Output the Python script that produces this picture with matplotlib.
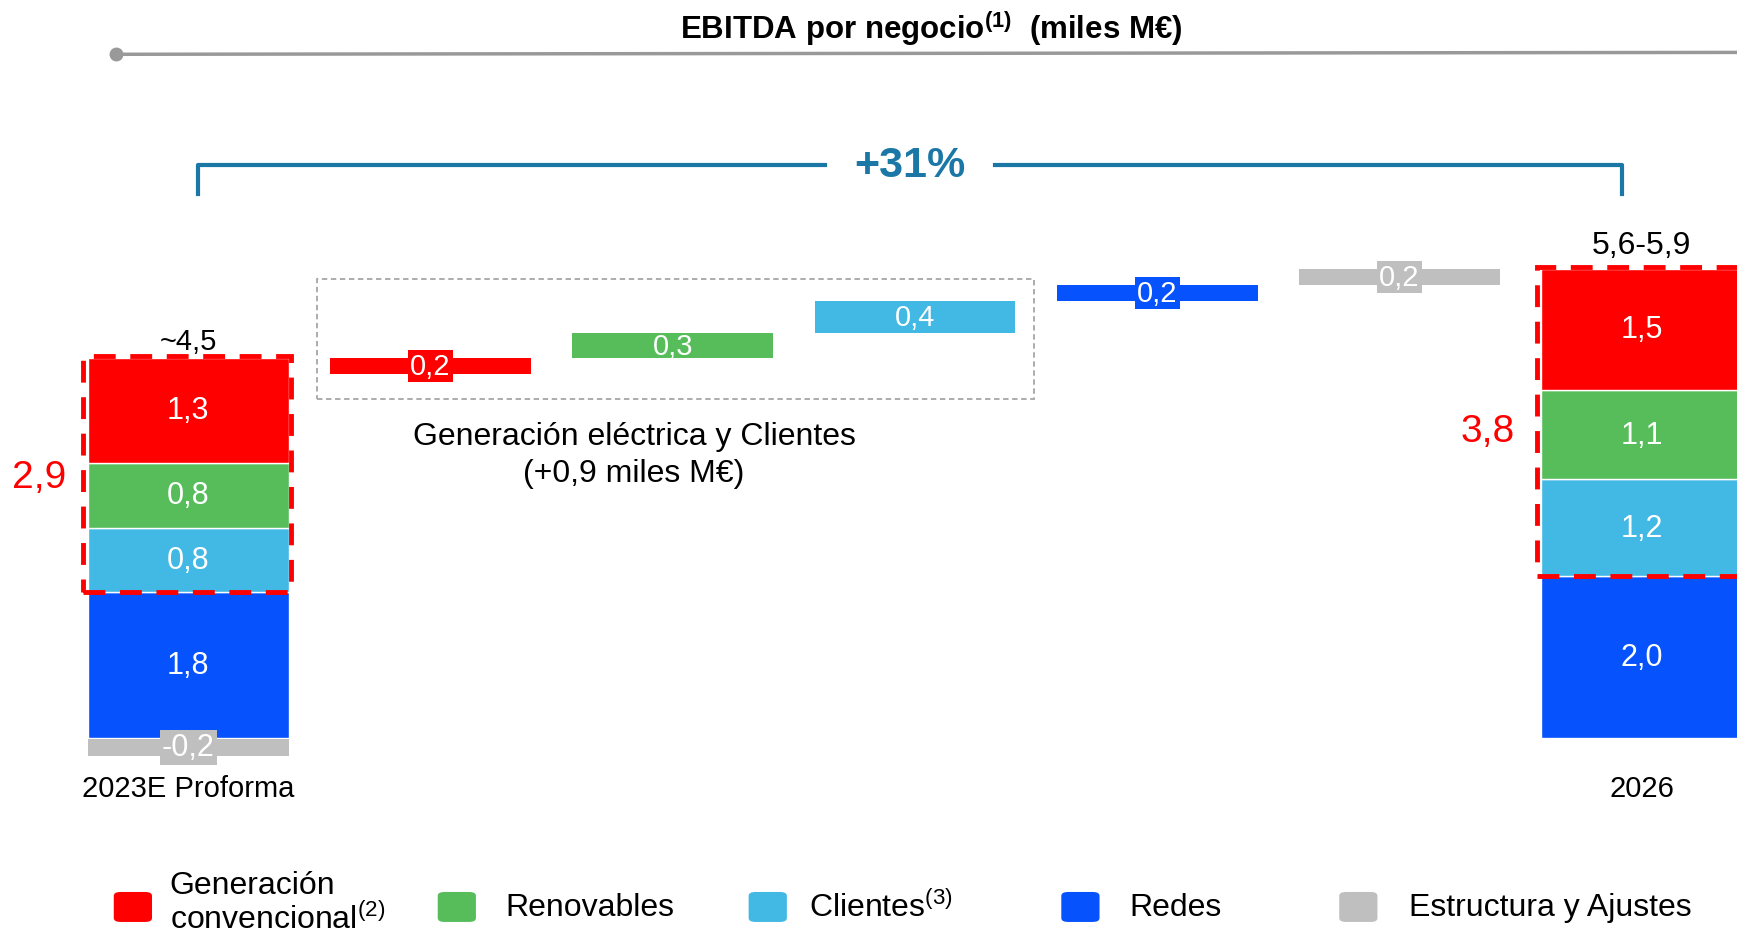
import numpy as np
import matplotlib.pyplot as plt
from matplotlib.patches import Rectangle, FancyBboxPatch

plt.rcParams['font.family'] = ['Liberation Sans', 'DejaVu Sans']
plt.rcParams['mathtext.fontset'] = 'custom'
plt.rcParams['mathtext.rm'] = 'Liberation Sans'
plt.rcParams['mathtext.bf'] = 'Liberation Sans:bold'

# data (miles M EUR)
segments = ['Generación\nconvencional$^{\\mathrm{(2)}}$', 'Renovables', 'Clientes$^{\\mathrm{(3)}}$',
            'Redes', 'Estructura y Ajustes']
colors = ['#FF0000', '#57BD5B', '#42B8E4', '#0652FD', '#BFBFBF']
base_2023 = [1.3, 0.8, 0.8, 1.8, -0.2]
deltas = [0.2, 0.3, 0.4, 0.2, 0.2]
final_2026 = [1.5, 1.1, 1.2, 2.0]
cat_labels = ['2023E Proforma', '2026']
total_labels = ['~4,5', '5,6-5,9']
sub_labels = ['2,9', '3,8']
growth = '+31%'
group_title = 'Generación eléctrica y Clientes\n(+0,9 miles M€)'


def fmt(v):
    return f'{v:.1f}'.replace('.', ',')


fig = plt.figure(figsize=(17.37, 9.37), dpi=100)
ax = fig.add_axes([0, 0, 1, 1])
ax.set_xlim(-0.777, 6.393)
ax.set_ylim(-2.452, 9.137)
ax.axis('off')

w = 0.828
fs = 21

# stacked bars: bottom Redes, then Clientes, Renovables, Generacion
for xpos, vals in [(0, base_2023[:4]), (6, final_2026)]:
    bottom = 0
    for k in [3, 2, 1, 0]:
        ax.bar(xpos, vals[k], w, bottom=bottom, color=colors[k], edgecolor='white', linewidth=1)
        ax.text(xpos, bottom + vals[k] / 2, fmt(vals[k]), ha='center', va='center',
                color='white', fontsize=fs + 1)
        bottom += vals[k]

# negative structure bar on 2023
ax.bar(0, base_2023[4], w, bottom=-0.02, color=colors[4])
ax.text(0, base_2023[4] / 2 - 0.02, fmt(base_2023[4]), ha='center', va='center', color='white',
        fontsize=fs + 1, bbox=dict(facecolor=colors[4], edgecolor='none', pad=1.5))

# waterfall steps
level = sum(base_2023)
for i, d in enumerate(deltas):
    ax.bar(i + 1, d, w, bottom=level, color=colors[i])
    bb = dict(facecolor=colors[i], edgecolor='none', pad=1.5) if d < 0.3 else None
    ax.text(i + 1, level + d / 2, fmt(d), ha='center', va='center', color='white',
            fontsize=fs, bbox=bb)
    level += d

# dashed red frames
ax.add_patch(Rectangle((-0.434, base_2023[3]), 0.859, sum(base_2023[:3]) + 0.02, fill=False,
                       edgecolor='#FF0000', lw=3.5, ls=(0, (4.5, 3)), zorder=5))
ax.add_patch(Rectangle((6 - 0.432, final_2026[3]), 1.0, sum(final_2026[:3]) + 0.02, fill=False,
                       edgecolor='#FF0000', lw=3.5, ls=(0, (4.5, 3)), zorder=5))

# gray dashed group box
ax.add_patch(Rectangle((0.53, 4.19), 2.96, 1.49, fill=False, edgecolor='#A6A6A6', lw=1.3,
                       ls=(0, (3, 2))))
ax.text(1.84, 3.5, group_title, ha='center', va='center', fontsize=23, linespacing=1.3)

# totals and sub-totals
ax.text(0, 4.91, total_labels[0], ha='center', va='center', fontsize=21)
ax.text(6, 6.1, total_labels[1], ha='center', va='center', fontsize=23)
ax.text(-0.617, 3.22, sub_labels[0], ha='center', va='center', fontsize=28, color='#FF0000')
ax.text(5.364, 3.79, sub_labels[1], ha='center', va='center', fontsize=28, color='#FF0000')

# category labels
ax.text(0, -0.62, cat_labels[0], ha='center', va='center', fontsize=21)
ax.text(6, -0.62, cat_labels[1], ha='center', va='center', fontsize=21)

# growth bracket
teal = '#1B77A6'
ax.plot([0.04, 0.04, 2.63], [6.73, 7.08, 7.08], color=teal, lw=3, solid_joinstyle='round')
ax.plot([3.33, 5.92, 5.92], [7.08, 7.08, 6.73], color=teal, lw=3, solid_joinstyle='round')
ax.text(2.98, 7.08, growth, ha='center', va='center', fontsize=31, fontweight='bold', color=teal)

# title and top rule
ax.plot([0.067, 1.0], [0.941, 0.943], color='#999999', lw=2.5, transform=ax.transAxes)
ax.plot([0.067], [0.941], 'o', color='#999999', ms=9, transform=ax.transAxes)
ax.text(0.536, 0.970, 'EBITDA por negocio$^{\\mathbf{(1)}}$  (miles M€)', ha='center', va='center',
        fontsize=22.5, fontweight='bold', transform=ax.transAxes)

# legend
leg_y = 0.031
sq_x = [0.0765, 0.263, 0.442, 0.622, 0.782]
tx_x = [0.0976, 0.291, 0.466, 0.650, 0.811]
for k in range(5):
    ax.add_patch(FancyBboxPatch((sq_x[k] - 0.011, leg_y - 0.016), 0.022, 0.032,
                                boxstyle='round,pad=0,rounding_size=0.004', facecolor=colors[k],
                                edgecolor='none', transform=ax.transAxes))
    ty = leg_y + 0.005 if '\n' in segments[k] else leg_y
    ax.text(tx_x[k], ty, segments[k], ha='left', va='center', fontsize=23, linespacing=1.08,
            transform=ax.transAxes)

fig.savefig('out.png', dpi=100)
